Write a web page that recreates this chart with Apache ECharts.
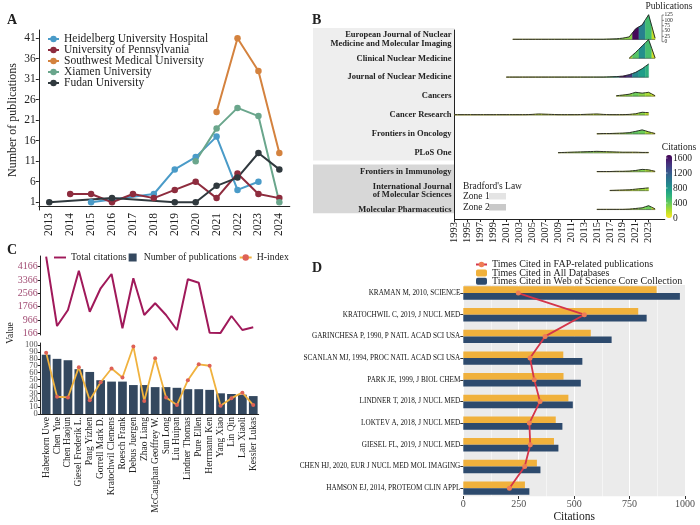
<!DOCTYPE html>
<html><head><meta charset="utf-8">
<script src="https://cdn.jsdelivr.net/npm/echarts@6/dist/echarts.min.js"></script>
<style>html,body{margin:0;padding:0;background:#fff}#c{width:700px;height:525px}</style>
</head><body><div id="c"></div>
<script>
// ---------- Panel A data ----------
const yearsA = ['2013','2014','2015','2016','2017','2018','2019','2020','2021','2022','2023','2024'];
const heidelberg   = [null,null,1,null,null,3,9,12,17,4,6,null];
const pennsylvania = [null,3,3,1,3,2,4,6,2,8,3,2];
const southwest    = [null,null,null,null,null,null,null,null,23,41,33,13];
const xiamen       = [null,null,null,null,null,null,null,11,19,24,22,1];
const fudan        = [1,null,null,2,null,null,1,1,5,7,13,9];
const yTicksA = [1,6,11,16,21,26,31,36,41];

// ---------- Panel B data ----------
const journals = ['European Journal of Nuclear\nMedicine and Molecular Imaging','Clinical Nuclear Medicine','Journal of Nuclear Medicine','Cancers','Cancer Research','Frontiers in Oncology','PLoS One','Frontiers in Immunology','International Journal\nof Molecular Sciences','Molecular Pharmaceutics'];
const startYears = [2002,2020,2001,2018,1993,2015,2009,2015,2017,2015];
const pubsEJNMMI  = [1,1,1,1,1,1,1,1,1,1,1,1,1,1,1,2,3,6,12,50,68,116,6];
const citesEJNMMI = [60,80,90,100,120,120,150,150,150,150,160,160,180,200,220,250,300,300,300,1650,950,520,150];
const pubsCNM  = [1,28,58,88,2];
const citesCNM = [150,450,850,500,120];
const pubsJNM  = [1,1,1,1,1,1,1,1,1,1,1,1,1,1,1,1,2,3,5,12,23,40,62];
const citesJNM = [80,90,100,100,110,120,130,150,150,160,170,180,200,220,250,300,400,700,1650,1450,900,750,620];
const pubsCancers  = [2,5,9,18,14,18,2];
const citesCancers = [150,220,300,380,300,220,80];
const pubsCancerRes  = [2,2,2,2,2,2,2,2,2,2,2,2,3,5,4,3,2,2,2,2,3,4,5,3,2,2,2,3,6,13,11];
const citesCancerRes = [50,50,50,60,60,60,70,70,70,80,80,80,100,150,130,100,80,80,80,80,100,120,150,100,80,80,80,100,200,300,150];
const pubsFrOnc  = [1,2,2,3,4,6,12,19,10,2];
const citesFrOnc = [50,80,100,150,250,350,420,380,220,60];
const pubsPlos  = [1,2,3,4,5,6,7,6,5,4,3,3,3,2,2];
const citesPlos = [100,150,200,250,300,320,300,260,220,180,150,120,100,80,60];
const pubsFrImm  = [1,1,1,2,2,3,6,11,9,2];
const citesFrImm = [40,60,80,100,150,200,280,320,220,60];
const pubsIJMS  = [1,2,3,4,7,10,13];
const citesIJMS = [60,80,100,150,200,260,220];
const pubsMolPh  = [1,1,1,1,1,2,5,8,18,3];
const citesMolPh = [50,60,70,80,100,150,250,320,380,120];
const ridgeYearTicks = [1993,1995,1997,1999,2001,2003,2005,2007,2009,2011,2013,2015,2017,2019,2021,2023];
const pubLegendTicks = [125,100,75,50,25,0];
const citeLegendTicks = [1600,1200,800,400,0];

// ---------- Panel C data ----------
const authors = ['Haberkorn Uwe','Chen Yue','Chen Haojun','Giesel Frederik L.','Pang Yizhen','Gorrell Mark D.','Kratochwil Clemens','Roesch Frank','Debus Juergen','Zhao Liang','McCaughan Geoffrey W.','Sun Long','Liu Huipan','Lindner Thomas','Pure Ellen','Herrmann Ken','Yang Xiao','Lin Qin','Lan Xiaoli','Kessler Lukas'];
const totalCitations = [4760,604,1563,3920,1461,2865,3722,466,3464,1263,1965,1263,364,3404,3201,202,190,1204,364,526];
const authorPubs = [86,80,78,65,61,49,47,47,42,42,39,39,38,36,36,35,30,29,28,26];
const hIndex = [89,25,24,68,20,46,66,53,98,19,81,24,13,49,72,70,12,23,31,13];
const citeTicksC = [166,966,1766,2566,3366,4166];
const valueTicksEvenC = [0,20,40,60,80,100];
const valueTicksOddC = [10,30,50,70,90];

// ---------- Panel D data ----------
const refs = ['KRAMAN M, 2010, SCIENCE','KRATOCHWIL C, 2019, J NUCL MED','GARINCHESA P, 1990, P NATL ACAD SCI USA','SCANLAN MJ, 1994, PROC NATL ACAD SCI USA','PARK JE, 1999, J BIOL CHEM','LINDNER T, 2018, J NUCL MED','LOKTEV A, 2018, J NUCL MED','GIESEL FL, 2019, J NUCL MED','CHEN HJ, 2020, EUR J NUCL MED MOL IMAGING','HAMSON EJ, 2014, PROTEOM CLIN APPL'];
const citedAllDb = [872,789,575,451,452,474,417,409,332,278];
const citedWoS   = [977,827,669,537,530,494,447,429,348,298];
const citedFap   = [248,546,369,301,320,346,298,302,277,208];

// ---------- build ----------
const FONT = 'Liberation Serif';
const viridisRev = ['#fde725','#b5de2b','#6ece58','#35b779','#1f9e89','#26828e','#31688e','#3e4989','#482878','#440154'];
const ridgePubs = [pubsEJNMMI,pubsCNM,pubsJNM,pubsCancers,pubsCancerRes,pubsFrOnc,pubsPlos,pubsFrImm,pubsIJMS,pubsMolPh];
const ridgeCites = [citesEJNMMI,citesCNM,citesJNM,citesCancers,citesCancerRes,citesFrOnc,citesPlos,citesFrImm,citesIJMS,citesMolPh];
const RIDGE_BAND_RATIO = 1.41 / 125; // ridge height per publication, in category bands

const ridgeData = [];
ridgePubs.forEach((p, j) => {
  const n = p.length, s = startYears[j];
  for (let k = 0; k < n; k++) {
    const yr = s + k;
    const xL = k === 0 ? yr : yr - 0.5;
    const hL = k === 0 ? p[k] : (p[k-1] + p[k]) / 2;
    const xR = k === n - 1 ? yr : yr + 0.5;
    const hR = k === n - 1 ? p[k] : (p[k] + p[k+1]) / 2;
    ridgeData.push([yr, j, ridgeCites[j][k], xL, hL, p[k], xR, hR]);
  }
});

function ridgeItem(params, api) {
  const j = api.value(1);
  const band = api.size([0, 1])[1];
  const kpx = band * RIDGE_BAND_RATIO;
  const c = api.coord([api.value(0), j]);
  const l = api.coord([api.value(3), j]);
  const r = api.coord([api.value(6), j]);
  const y0 = c[1];
  const top = [[l[0], y0 - api.value(4)*kpx], [c[0], y0 - api.value(5)*kpx], [r[0], y0 - api.value(7)*kpx]];
  const col = api.visual('color');
  return {type:'group', children:[
    {type:'polygon', shape:{points:[[l[0], y0], ...top, [r[0], y0]]}, style:{fill:col, stroke:col, lineWidth:0.4}},
    {type:'polyline', shape:{points:top}, style:{stroke:'#1e1e1e', lineWidth:0.9, fill:null}},
    {type:'line', shape:{x1:l[0], y1:y0, x2:r[0], y2:y0}, style:{stroke:'#333', lineWidth:0.5}}
  ]};
}

const axisLineDark = {show:true, lineStyle:{color:'#222', width:1}};
const fmt = v => String(v);

const aSeries = [
  ['Heidelberg University Hospital', heidelberg, '#4a9bc8'],
  ['University of Pennsylvania', pennsylvania, '#8e2c3e'],
  ['Southwest Medical University', southwest, '#d4823e'],
  ['Xiamen University', xiamen, '#6aa68c'],
  ['Fudan University', fudan, '#30393e']
].map(([name, data, color]) => ({
  type:'line', name, data, xAxisIndex:0, yAxisIndex:0, connectNulls:true,
  symbol:'circle', symbolSize:6.5, itemStyle:{color}, lineStyle:{color, width:2}
}));

const cValueAxis = (ticks, showLine) => ({gridIndex:3, type:'value', position:'left', offset:0, min:0, max:103,
  splitLine:{show:false},
  axisLine:{show:showLine, lineStyle:{color:'#222', width:1}},
  axisTick:{show:true, customValues:ticks, length:3, lineStyle:{color:'#222'}},
  axisLabel:{customValues:ticks, fontSize:8.5, color:'#555', margin:3, formatter:fmt,
    showMinLabel:true, showMaxLabel:true, hideOverlap:false}});

const option = {
  animation:false,
  textStyle:{fontFamily:FONT, color:'#222'},
  grid:[
    {left:38.8, top:30, width:251, height:180},
    {left:454.5, top:30, width:210.3, height:189},
    {left:40.7, top:256, width:218, height:79},
    {left:40.7, top:343, width:218, height:71},
    {left:463.3, top:282.2, width:221.7, height:216.8}
  ].map(g => Object.assign({outerBoundsMode:'none', containLabel:false, show:false}, g)),
  xAxis:[
    {gridIndex:0, type:'category', data:yearsA, boundaryGap:true, axisLine:axisLineDark,
     axisTick:{alignWithLabel:true, length:3, lineStyle:{color:'#222'}},
     axisLabel:{rotate:90, fontSize:11.5, color:'#222', margin:3}},
    {gridIndex:1, type:'value', min:1993, max:2025.5, splitLine:{show:false}, axisLine:axisLineDark,
     axisTick:{show:true, customValues:ridgeYearTicks, length:3, lineStyle:{color:'#222'}},
     axisLabel:{customValues:ridgeYearTicks, rotate:90, fontSize:10.5, color:'#222', margin:3, formatter:fmt}},
    {gridIndex:2, type:'category', data:authors, boundaryGap:true, show:false},
    {gridIndex:3, type:'category', data:authors, boundaryGap:true, axisLine:axisLineDark,
     axisTick:{alignWithLabel:true, length:3, lineStyle:{color:'#222'}},
     axisLabel:{rotate:90, interval:0, fontSize:9.5, color:'#222', margin:3}},
    {gridIndex:4, type:'value', min:0, max:1000, interval:250, offset:-3,
     axisLine:{show:false}, axisTick:{show:true, length:3, lineStyle:{color:'#333'}},
     axisLabel:{fontSize:10, color:'#4d4d4d', margin:3, formatter:fmt},
     splitLine:{show:true, lineStyle:{color:'#ffffff', width:1}},
     minorTick:{show:false, splitNumber:2},
     minorSplitLine:{show:true, lineStyle:{color:'#ffffff', width:0.5}},
     name:'Citations', nameLocation:'middle', nameGap:15, nameTextStyle:{fontSize:11.5, color:'#222'}}
  ],
  yAxis:[
    {gridIndex:0, type:'value', min:-0.9, max:43, splitLine:{show:false}, axisLine:axisLineDark,
     axisTick:{show:true, customValues:yTicksA, length:3, lineStyle:{color:'#222'}},
     axisLabel:{customValues:yTicksA, fontSize:11.5, color:'#222', margin:3, formatter:fmt, showMinLabel:true, showMaxLabel:true},
     name:'Number of publications', nameLocation:'middle', nameGap:20, nameRotate:90,
     nameTextStyle:{fontSize:12, color:'#222'}},
    {gridIndex:1, type:'category', data:journals, inverse:true, boundaryGap:true, axisLine:axisLineDark,
     axisTick:{alignWithLabel:true, length:3, lineStyle:{color:'#222'}},
     axisLabel:{fontSize:8.5, fontWeight:'bold', color:'#222', margin:3, lineHeight:8.5, align:'right'}},
    {gridIndex:2, type:'value', min:64, max:4802, splitLine:{show:false}, axisLine:axisLineDark,
     axisTick:{show:true, customValues:citeTicksC, length:3, lineStyle:{color:'#222'}},
     axisLabel:{customValues:citeTicksC, fontSize:10, color:'#a24d74', margin:3, formatter:fmt, showMinLabel:true, showMaxLabel:true}},
    cValueAxis(valueTicksEvenC, true),
    {gridIndex:4, type:'category', data:refs, inverse:true, boundaryGap:true,
     axisLine:{show:false}, axisTick:{show:true, alignWithLabel:true, length:3, lineStyle:{color:'#333'}},
     axisLabel:{fontSize:7.2, color:'#111', margin:3}},
    cValueAxis(valueTicksOddC, false)
  ],
  visualMap:{type:'continuous', seriesIndex:5, dimension:2, min:0, max:1680, calculable:false,
    inRange:{color:viridisRev}, left:666, top:155, itemWidth:6, itemHeight:63, padding:0, text:null, showLabel:false},
  legend:[
    {data:aSeries.map(s => s.name), orient:'vertical', left:47, top:33, padding:0, itemGap:-1,
     itemWidth:11, itemHeight:8, textStyle:{fontSize:11.5, color:'#222', lineHeight:11}},
    {data:[{name:'Total citations', icon:'path://M0,0h10v1.6h-10z'}, {name:'Number of publications', icon:'path://M0,0h1v1h-1z'}, 'H-index'],
     left:54, top:252.5, padding:0, itemGap:2, itemWidth:12, itemHeight:8,
     textStyle:{fontSize:9.8, color:'#222'}},
    {data:['Times Cited in FAP-related publications','Times Cited in All Databases','Times Cited in Web of Science Core Collection'],
     orient:'vertical', left:475, top:259.5, padding:0, itemGap:-1.6, itemWidth:11, itemHeight:7,
     textStyle:{fontSize:10, color:'#222', lineHeight:8}}
  ],
  series:[
    ...aSeries,
    {type:'custom', name:'ridges', xAxisIndex:1, yAxisIndex:1, data:ridgeData, encode:{x:0, y:1},
     renderItem:ridgeItem, clip:false},
    {type:'line', name:'Total citations', xAxisIndex:2, yAxisIndex:2, data:totalCitations, symbol:'none',
     lineStyle:{color:'#a0195a', width:2}, itemStyle:{color:'#a0195a'}},
    {type:'bar', name:'Number of publications', xAxisIndex:3, yAxisIndex:3, data:authorPubs, barWidth:'80%',
     itemStyle:{color:'#34485f'}},
    {type:'line', name:'H-index', xAxisIndex:3, yAxisIndex:3, data:hIndex, symbol:'circle', symbolSize:4,
     lineStyle:{color:'#f0b23e', width:1.8}, itemStyle:{color:'#de6156'}},
    {type:'bar', name:'Times Cited in All Databases', xAxisIndex:4, yAxisIndex:4, data:citedAllDb,
     barWidth:6.7, barGap:'0%', itemStyle:{color:'#f0b13c'}},
    {type:'bar', name:'Times Cited in Web of Science Core Collection', xAxisIndex:4, yAxisIndex:4, data:citedWoS,
     barWidth:6.7, barGap:'0%', itemStyle:{color:'#2d4a6d'}},
    {type:'line', name:'Times Cited in FAP-related publications', xAxisIndex:4, yAxisIndex:4, data:citedFap,
     symbol:'circle', symbolSize:5, z:5, lineStyle:{color:'#d4354a', width:1.8}, itemStyle:{color:'#ee7d55'}}
  ]
};

const chart = echarts.init(document.getElementById('c'));
chart.setOption(option);

// ---------- decorations placed from the axes ----------
const yB = i => chart.convertToPixel({yAxisIndex:1}, i);
const bandB = yB(1) - yB(0);
const xB0 = chart.convertToPixel({xAxisIndex:1}, 1993);
const yD = i => chart.convertToPixel({yAxisIndex:4}, i);
const bandD = yD(1) - yD(0);
const xD0 = chart.convertToPixel({xAxisIndex:4}, 0);
const xD1 = chart.convertToPixel({xAxisIndex:4}, 1000);
const pubK = bandB * RIDGE_BAND_RATIO;
const pubBase = 41.7;
const vm = option.visualMap;
const T = (text, x, y, opt) => Object.assign({type:'text', x, y, silent:true,
  style:Object.assign({text, fontFamily:FONT, fontSize:10, fill:'#222', align:'left', verticalAlign:'middle'}, (opt||{}).style||{})},
  opt ? {rotation:opt.rotation||0, z:opt.z||10} : {z:10});

const graphics = [
  {type:'rect', z:-10, silent:true, shape:{x:313, y:yB(0)-0.6*bandB, width:xB0-313, height:(yB(6)+0.4*bandB)-(yB(0)-0.6*bandB)}, style:{fill:'#eeeeee'}},
  {type:'rect', z:-10, silent:true, shape:{x:313, y:yB(7)-0.38*bandB, width:xB0-313, height:(yB(9)+0.2*bandB)-(yB(7)-0.38*bandB)}, style:{fill:'#d7d7d7'}},
  {type:'rect', z:-10, silent:true, shape:{x:xD0, y:yD(0)-0.37*bandD, width:xD1-xD0, height:(yD(9)+0.37*bandD)-(yD(0)-0.37*bandD)}, style:{fill:'#ebebeb'}},
  T('A', 7, 20, {style:{fontSize:14, fontWeight:'bold'}}),
  T('B', 312, 20, {style:{fontSize:14, fontWeight:'bold'}}),
  T('C', 7, 250, {style:{fontSize:14, fontWeight:'bold'}}),
  T('D', 312, 268, {style:{fontSize:14, fontWeight:'bold'}}),
  T('Value', 10, 333, {rotation:Math.PI/2, style:{fontSize:9.5, align:'center'}}),
  T("Bradford's Law", 463, 186, {style:{fontSize:9.5}}),
  T('Zone 1', 463, 196.5, {style:{fontSize:9.5}}),
  T('Zone 2', 463, 207.3, {style:{fontSize:9.5}}),
  {type:'rect', z:10, silent:true, shape:{x:489, y:193, width:17, height:6.5}, style:{fill:'#e4e4e4'}},
  {type:'rect', z:10, silent:true, shape:{x:489, y:204, width:17, height:6.5}, style:{fill:'#c9c9c9'}},
  T('Publications', 669, 6, {style:{fontSize:9.5, align:'center'}}),
  {type:'line', z:10, silent:true, shape:{x1:662, y1:pubBase-125*pubK, x2:662, y2:pubBase}, style:{stroke:'#444', lineWidth:0.6}},
  T('Citations', 679, 147, {style:{fontSize:9.5, align:'center'}})
];
pubLegendTicks.forEach(v => {
  const y = pubBase - v * pubK;
  graphics.push({type:'line', z:10, silent:true, shape:{x1:662, y1:y, x2:664, y2:y}, style:{stroke:'#444', lineWidth:0.6}});
  graphics.push(T(String(v), 664.5, y, {style:{fontSize:5.5}}));
});
citeLegendTicks.forEach(v => {
  const y = vm.top + vm.itemHeight * (1 - v / vm.max);
  graphics.push({type:'line', z:10, silent:true, shape:{x1:vm.left, y1:y, x2:vm.left+1.5, y2:y}, style:{stroke:'#fff', lineWidth:0.6}});
  graphics.push(T(String(v), vm.left + vm.itemWidth + 1, y, {style:{fontSize:9.5}}));
});
chart.setOption({graphic:graphics});
</script></body></html>
